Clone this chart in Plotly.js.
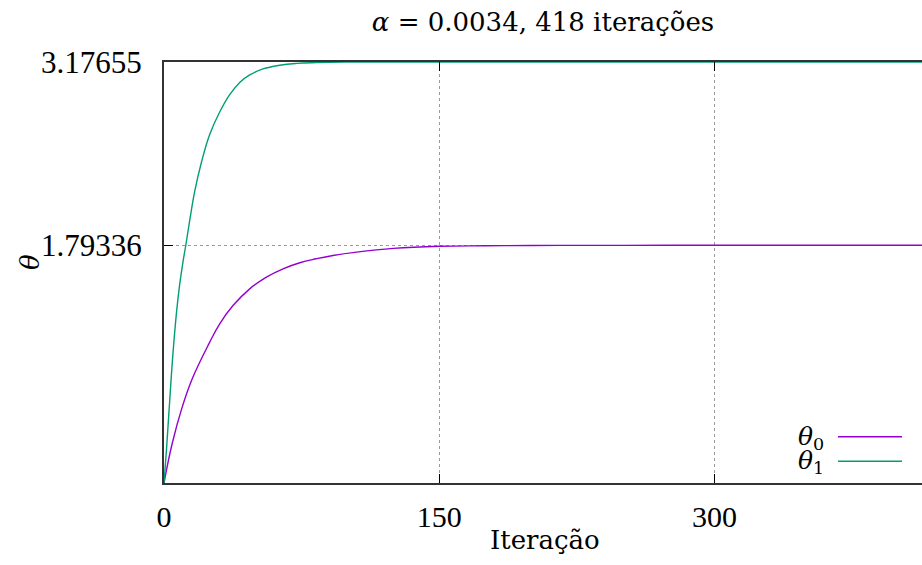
<!DOCTYPE html>
<html>
<head>
<meta charset="utf-8">
<script src="https://cdn.plot.ly/plotly-3.0.1.min.js"></script>
<style>html,body{margin:0;padding:0;background:#fff;}#chart{width:922px;height:565px;}</style>
</head>
<body>
<div id="chart"></div>
<script>
// Data
const iterTheta0 = [0, 4.5, 10.0, 15.5, 24.6, 30.35, 37.6, 46.7, 55.8, 64.85, 74.0, 83.0, 92.1, 104.9, 125, 150, 175, 200, 250, 300, 350, 413];
const theta0 = [0, 0.300, 0.576, 0.790, 1.054, 1.201, 1.339, 1.465, 1.553, 1.616, 1.662, 1.692, 1.717, 1.742, 1.770, 1.786, 1.790, 1.792, 1.7932, 1.79335, 1.79336, 1.79336];
const iterTheta1 = [0, 1.31, 3.11, 4.90, 6.76, 8.56, 10.36, 11.83, 14.0, 16.73, 20.4, 24.9, 30.35, 35.8, 41.25, 46.7, 53.95, 63.05, 72.2, 83, 100, 130, 200, 300, 413];
const theta1 = [0, 0.244, 0.622, 0.980, 1.280, 1.500, 1.670, 1.790, 1.980, 2.200, 2.420, 2.630, 2.799, 2.930, 3.022, 3.079, 3.124, 3.152, 3.166, 3.172, 3.1755, 3.1765, 3.17655, 3.17655, 3.17655];
const xTicks = [0, 150, 300];
const yTicks = [1.79336, 3.17655];
const yTickLabels = ['1.79336', '3.17655'];
const seriesColors = ['#9400D3', '#009E73'];

const FONT = 'Liberation Serif';
const FONT_TXT = 'DejaVu Serif';
const L = 164, R = 922, T = 62, B = 483;
const pw = R - L, ph = B - T;
const px = v => (v - L) / pw;
const py = v => (B - v) / ph;

const traces = [
  {x: iterTheta0, y: theta0, mode: 'lines', line: {color: seriesColors[0], width: 1.4, shape: 'spline', smoothing: 1.2}, showlegend: false, hoverinfo: 'skip'},
  {x: iterTheta1, y: theta1, mode: 'lines', line: {color: seriesColors[1], width: 1.4, shape: 'spline', smoothing: 1.2}, showlegend: false, hoverinfo: 'skip'}
];

const legendY = [436.7, 461.3];
const annotations = [
  {text: 'Iteração', xref: 'paper', yref: 'paper', x: px(545), y: py(540), xanchor: 'center', yanchor: 'middle', showarrow: false, font: {family: FONT_TXT, size: 26, color: '#000'}},
  {text: '<i>θ</i>', xref: 'paper', yref: 'paper', x: px(30), y: py(262), xanchor: 'center', yanchor: 'middle', textangle: -90, showarrow: false, font: {family: FONT_TXT, size: 26, color: '#000'}}
];
const shapes = [];
for (let i = 0; i < 2; i++) {
  annotations.push({text: '<i>θ</i><sub>' + i + '</sub>', xref: 'paper', yref: 'paper', x: px(826), y: py(legendY[i] + 1), xanchor: 'right', yanchor: 'middle', showarrow: false, font: {family: FONT_TXT, size: 25, color: '#000'}});
  shapes.push({type: 'line', xref: 'paper', yref: 'paper', x0: px(838), x1: px(902), y0: py(legendY[i]), y1: py(legendY[i]), line: {color: seriesColors[i], width: 1.4}});
}

const layout = {
  width: 922, height: 565,
  font: {family: FONT, size: 30, color: '#000'},
  margin: {l: L, r: 0, t: T, b: 565 - B, pad: 0},
  paper_bgcolor: '#fff', plot_bgcolor: '#fff',
  title: {text: '<i>α</i> = 0.0034, 418 iterações', xref: 'paper', x: 0.5, xanchor: 'center', yref: 'container', y: 1 - 22 / 565, yanchor: 'middle', font: {family: FONT_TXT, size: 26, color: '#000'}},
  xaxis: {
    range: [0, 413], tickvals: xTicks, ticktext: xTicks.map(String),
    ticks: 'inside', ticklen: 9, tickwidth: 1.2, tickcolor: '#000',
    showline: true, linecolor: '#333', linewidth: 2, mirror: 'ticks',
    showgrid: true, gridcolor: '#9a9a9a', griddash: 'dot', gridwidth: 1,
    zeroline: false, ticklabelstandoff: 6,
    tickfont: {family: FONT, size: 30, color: '#000'}
  },
  yaxis: {
    range: [0, 3.17655], tickvals: yTicks, ticktext: yTickLabels,
    ticks: 'inside', ticklen: 9, tickwidth: 1.2, tickcolor: '#000',
    showline: true, linecolor: '#333', linewidth: 2, mirror: false,
    showgrid: true, gridcolor: '#9a9a9a', griddash: 'dot', gridwidth: 1,
    zeroline: false, ticklabelstandoff: 14,
    tickfont: {family: FONT, size: 31, color: '#000'}
  },
  annotations: annotations,
  shapes: shapes
};

Plotly.newPlot('chart', traces, layout, {staticPlot: true, displayModeBar: false});
</script>
</body>
</html>
